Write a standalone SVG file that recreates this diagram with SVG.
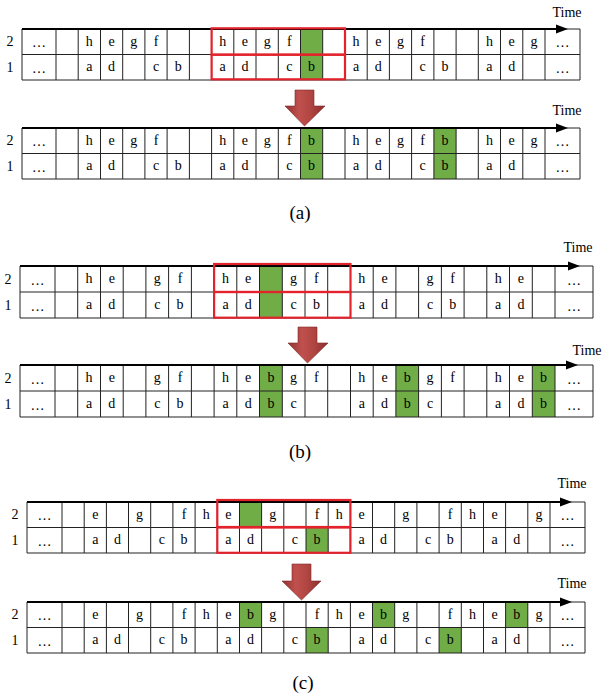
<svg xmlns="http://www.w3.org/2000/svg" width="602" height="693" viewBox="0 0 602 693">
<style>
.g{fill:none;stroke:#222;stroke-width:1}
.gr{fill:#70AD47}
.rb{fill:none;stroke:#E3232C;stroke-width:2.2}
.ax{stroke:#000;stroke-width:2;fill:none}
.ah{fill:#000}
text{font-family:"Liberation Serif","Times New Roman",serif;fill:#000}
.t{font-size:14px;text-anchor:middle}
.lb{font-size:14px;text-anchor:middle}
.tm{font-size:14px;text-anchor:middle}
.cap{font-size:19px;text-anchor:middle}
.big{fill:url(#bg);stroke:#7F2A28;stroke-width:0.6}
</style>
<defs>
<linearGradient id="bg" x1="0" y1="0" x2="1" y2="0">
<stop offset="0" stop-color="#8E3331"/>
<stop offset="0.35" stop-color="#C0504D"/>
<stop offset="0.65" stop-color="#B04542"/>
<stop offset="1" stop-color="#8A2F2D"/>
</linearGradient>
<path id="ga" d="M22 0H580V51H22Z M22 25.5H580 M56 0V51 M78.2 0V51 M100.5 0V51 M122.7 0V51 M144.9 0V51 M167.1 0V51 M189.4 0V51 M211.6 0V51 M233.8 0V51 M256 0V51 M278.3 0V51 M300.5 0V51 M322.7 0V51 M345 0V51 M367.2 0V51 M389.4 0V51 M411.6 0V51 M433.9 0V51 M456.1 0V51 M478.3 0V51 M500.5 0V51 M522.8 0V51 M545 0V51"/>
<path id="gb" d="M20 0H593V52H20Z M20 26H593 M55 0V52 M77.7 0V52 M100.5 0V52 M123.2 0V52 M145.9 0V52 M168.6 0V52 M191.4 0V52 M214.1 0V52 M236.8 0V52 M259.5 0V52 M282.3 0V52 M305 0V52 M327.7 0V52 M350.5 0V52 M373.2 0V52 M395.9 0V52 M418.6 0V52 M441.4 0V52 M464.1 0V52 M486.8 0V52 M509.5 0V52 M532.3 0V52 M555 0V52"/>
<path id="gc" d="M27 0H585V51H27Z M27 25.5H585 M62 0V51 M84.2 0V51 M106.4 0V51 M128.5 0V51 M150.7 0V51 M172.9 0V51 M195.1 0V51 M217.3 0V51 M239.5 0V51 M261.6 0V51 M283.8 0V51 M306 0V51 M328.2 0V51 M350.4 0V51 M372.5 0V51 M394.7 0V51 M416.9 0V51 M439.1 0V51 M461.3 0V51 M483.5 0V51 M505.6 0V51 M527.8 0V51 M550 0V51"/>
</defs>

<!-- (a) top -->
<g id="grid-a1">
<rect class="gr" x="300.5" y="29" width="22.2" height="51"/>
<use href="#ga" class="g" transform="translate(0,29)"/>
<text class="lb" x="10" y="46">2</text><text class="lb" x="10" y="72">1</text>
<g class="t">
<text x="39" y="47">…</text><text x="562.5" y="47">…</text>
<text x="89.3" y="46">h</text><text x="111.6" y="46">e</text><text x="133.8" y="46">g</text><text x="156" y="46">f</text>
<text x="222.7" y="46">h</text><text x="244.9" y="46">e</text><text x="267.2" y="46">g</text><text x="289.4" y="46">f</text>
<text x="356.1" y="46">h</text><text x="378.3" y="46">e</text><text x="400.5" y="46">g</text><text x="422.7" y="46">f</text>
<text x="489.4" y="46">h</text><text x="511.7" y="46">e</text><text x="533.9" y="46">g</text>
<text x="39" y="73">…</text><text x="562.5" y="73">…</text>
<text x="89.3" y="71">a</text><text x="111.6" y="71">d</text><text x="156" y="71">c</text><text x="178.3" y="71">b</text>
<text x="222.7" y="71">a</text><text x="244.9" y="71">d</text><text x="289.4" y="71">c</text><text x="311.6" y="71">b</text>
<text x="356.1" y="71">a</text><text x="378.3" y="71">d</text><text x="422.7" y="71">c</text><text x="445" y="71">b</text>
<text x="489.4" y="71">a</text><text x="511.7" y="71">d</text>
</g>
<path class="ax" d="M22 29H558"/><polygon class="ah" points="568,29 556,24.5 556,33.5"/>
<text class="tm" x="567" y="17">Time</text>
<rect class="rb" x="211.6" y="28.3" width="133.4" height="26.4"/>
<rect class="rb" x="211.6" y="54.7" width="133.4" height="24.6"/>
</g>

<!-- (a) bottom -->
<g id="grid-a2">
<rect class="gr" x="300.5" y="128" width="22.2" height="51"/>
<rect class="gr" x="433.9" y="128" width="22.2" height="51"/>
<use href="#ga" class="g" transform="translate(0,128)"/>
<text class="lb" x="10" y="145">2</text><text class="lb" x="10" y="171">1</text>
<g class="t">
<text x="39" y="146">…</text><text x="562.5" y="146">…</text>
<text x="89.3" y="145">h</text><text x="111.6" y="145">e</text><text x="133.8" y="145">g</text><text x="156" y="145">f</text>
<text x="222.7" y="145">h</text><text x="244.9" y="145">e</text><text x="267.2" y="145">g</text><text x="289.4" y="145">f</text><text x="311.6" y="145">b</text>
<text x="356.1" y="145">h</text><text x="378.3" y="145">e</text><text x="400.5" y="145">g</text><text x="422.7" y="145">f</text><text x="445" y="145">b</text>
<text x="489.4" y="145">h</text><text x="511.7" y="145">e</text><text x="533.9" y="145">g</text>
<text x="39" y="172">…</text><text x="562.5" y="172">…</text>
<text x="89.3" y="170">a</text><text x="111.6" y="170">d</text><text x="156" y="170">c</text><text x="178.3" y="170">b</text>
<text x="222.7" y="170">a</text><text x="244.9" y="170">d</text><text x="289.4" y="170">c</text><text x="311.6" y="170">b</text>
<text x="356.1" y="170">a</text><text x="378.3" y="170">d</text><text x="422.7" y="170">c</text><text x="445" y="170">b</text>
<text x="489.4" y="170">a</text><text x="511.7" y="170">d</text>
</g>
<path class="ax" d="M22 128H558"/><polygon class="ah" points="568,128 556,123.5 556,132.5"/>
<text class="tm" x="567" y="115">Time</text>
</g>

<!-- (b) top -->
<g id="grid-b1">
<rect class="gr" x="259.5" y="266" width="22.8" height="52"/>
<use href="#gb" class="g" transform="translate(0,266)"/>
<text class="lb" x="8" y="284">2</text><text class="lb" x="8" y="310">1</text>
<g class="t">
<text x="37.5" y="285">…</text><text x="574" y="285">…</text>
<text x="89.1" y="283">h</text><text x="111.8" y="283">e</text><text x="157.3" y="283">g</text><text x="180" y="283">f</text>
<text x="225.5" y="283">h</text><text x="248.2" y="283">e</text><text x="293.6" y="283">g</text><text x="316.4" y="283">f</text>
<text x="361.8" y="283">h</text><text x="384.5" y="283">e</text><text x="430" y="283">g</text><text x="452.7" y="283">f</text>
<text x="498.2" y="283">h</text><text x="520.9" y="283">e</text>
<text x="37.5" y="311">…</text><text x="574" y="311">…</text>
<text x="89.1" y="309">a</text><text x="111.8" y="309">d</text><text x="157.3" y="309">c</text><text x="180" y="309">b</text>
<text x="225.5" y="309">a</text><text x="248.2" y="309">d</text><text x="293.6" y="309">c</text><text x="316.4" y="309">b</text>
<text x="361.8" y="309">a</text><text x="384.5" y="309">d</text><text x="430" y="309">c</text><text x="452.7" y="309">b</text>
<text x="498.2" y="309">a</text><text x="520.9" y="309">d</text>
</g>
<path class="ax" d="M20 266H570"/><polygon class="ah" points="580,266 568,261.5 568,270.5"/>
<text class="tm" x="578" y="252">Time</text>
<rect class="rb" x="214.1" y="264" width="136.4" height="28"/>
<rect class="rb" x="214.1" y="292" width="136.4" height="25.7"/>
</g>

<!-- (b) bottom -->
<g id="grid-b2">
<rect class="gr" x="259.5" y="365" width="22.8" height="52"/>
<rect class="gr" x="395.9" y="365" width="22.7" height="52"/>
<rect class="gr" x="532.3" y="365" width="22.7" height="52"/>
<use href="#gb" class="g" transform="translate(0,365)"/>
<text class="lb" x="8" y="383">2</text><text class="lb" x="8" y="409">1</text>
<g class="t">
<text x="37.5" y="384">…</text><text x="574" y="384">…</text>
<text x="89.1" y="382">h</text><text x="111.8" y="382">e</text><text x="157.3" y="382">g</text><text x="180" y="382">f</text>
<text x="225.5" y="382">h</text><text x="248.2" y="382">e</text><text x="270.9" y="382">b</text><text x="293.6" y="382">g</text><text x="316.4" y="382">f</text>
<text x="361.8" y="382">h</text><text x="384.5" y="382">e</text><text x="407.3" y="382">b</text><text x="430" y="382">g</text><text x="452.7" y="382">f</text>
<text x="498.2" y="382">h</text><text x="520.9" y="382">e</text><text x="543.6" y="382">b</text>
<text x="37.5" y="410">…</text><text x="574" y="410">…</text>
<text x="89.1" y="408">a</text><text x="111.8" y="408">d</text><text x="157.3" y="408">c</text><text x="180" y="408">b</text>
<text x="225.5" y="408">a</text><text x="248.2" y="408">d</text><text x="270.9" y="408">b</text><text x="293.6" y="408">c</text>
<text x="361.8" y="408">a</text><text x="384.5" y="408">d</text><text x="407.3" y="408">b</text><text x="430" y="408">c</text>
<text x="498.2" y="408">a</text><text x="520.9" y="408">d</text><text x="543.6" y="408">b</text>
</g>
<path class="ax" d="M20 365H568"/><polygon class="ah" points="578,365 566,360.5 566,369.5"/>
<text class="tm" x="587" y="355">Time</text>
</g>

<!-- (c) top -->
<g id="grid-c1">
<rect class="gr" x="239.5" y="502" width="22.1" height="25.5"/>
<rect class="gr" x="306" y="527.5" width="22.2" height="25.5"/>
<use href="#gc" class="g" transform="translate(0,502)"/>
<text class="lb" x="15" y="519">2</text><text class="lb" x="15" y="545">1</text>
<g class="t">
<text x="44.5" y="520">…</text><text x="567.5" y="520">…</text>
<text x="95.3" y="519">e</text><text x="139.6" y="519">g</text><text x="184" y="519">f</text><text x="206.2" y="519">h</text>
<text x="228.4" y="519">e</text><text x="272.7" y="519">g</text><text x="317.1" y="519">f</text><text x="339.3" y="519">h</text>
<text x="361.5" y="519">e</text><text x="405.8" y="519">g</text><text x="450.2" y="519">f</text><text x="472.4" y="519">h</text>
<text x="494.5" y="519">e</text><text x="538.9" y="519">g</text>
<text x="44.5" y="546">…</text><text x="567.5" y="546">…</text>
<text x="95.3" y="544">a</text><text x="117.5" y="544">d</text><text x="161.8" y="544">c</text><text x="184" y="544">b</text>
<text x="228.4" y="544">a</text><text x="250.5" y="544">d</text><text x="294.9" y="544">c</text><text x="317.1" y="544">b</text>
<text x="361.5" y="544">a</text><text x="383.6" y="544">d</text><text x="428" y="544">c</text><text x="450.2" y="544">b</text>
<text x="494.5" y="544">a</text><text x="516.7" y="544">d</text>
</g>
<path class="ax" d="M27 502H562"/><polygon class="ah" points="572,502 560,497.5 560,506.5"/>
<text class="tm" x="572" y="488">Time</text>
<rect class="rb" x="217.3" y="500" width="133.1" height="27"/>
<rect class="rb" x="217.3" y="527.5" width="133.1" height="25.3"/>
</g>

<!-- (c) bottom -->
<g id="grid-c2">
<rect class="gr" x="239.5" y="602" width="22.1" height="25.5"/>
<rect class="gr" x="372.5" y="602" width="22.2" height="25.5"/>
<rect class="gr" x="505.6" y="602" width="22.2" height="25.5"/>
<rect class="gr" x="306" y="627.5" width="22.2" height="25.5"/>
<rect class="gr" x="439.1" y="627.5" width="22.2" height="25.5"/>
<use href="#gc" class="g" transform="translate(0,602)"/>
<text class="lb" x="15" y="619">2</text><text class="lb" x="15" y="645">1</text>
<g class="t">
<text x="44.5" y="620">…</text><text x="567.5" y="620">…</text>
<text x="95.3" y="619">e</text><text x="139.6" y="619">g</text><text x="184" y="619">f</text><text x="206.2" y="619">h</text>
<text x="228.4" y="619">e</text><text x="250.5" y="619">b</text><text x="272.7" y="619">g</text><text x="317.1" y="619">f</text><text x="339.3" y="619">h</text>
<text x="361.5" y="619">e</text><text x="383.6" y="619">b</text><text x="405.8" y="619">g</text><text x="450.2" y="619">f</text><text x="472.4" y="619">h</text>
<text x="494.5" y="619">e</text><text x="516.7" y="619">b</text><text x="538.9" y="619">g</text>
<text x="44.5" y="646">…</text><text x="567.5" y="646">…</text>
<text x="95.3" y="644">a</text><text x="117.5" y="644">d</text><text x="161.8" y="644">c</text><text x="184" y="644">b</text>
<text x="228.4" y="644">a</text><text x="250.5" y="644">d</text><text x="294.9" y="644">c</text><text x="317.1" y="644">b</text>
<text x="361.5" y="644">a</text><text x="383.6" y="644">d</text><text x="428" y="644">c</text><text x="450.2" y="644">b</text>
<text x="494.5" y="644">a</text><text x="516.7" y="644">d</text>
</g>
<path class="ax" d="M27 602H562"/><polygon class="ah" points="572,602 560,597.5 560,606.5"/>
<text class="tm" x="572" y="588">Time</text>
</g>

<g id="connectors">
<polygon class="big" points="295,90 314,90 314,106 325,106 304.5,126 285,106 295,106"/>
<polygon class="big" points="298,327 317,327 317,343 328,343 307.5,363 288,343 298,343"/>
<polygon class="big" points="292,564 311,564 311,581 321,581 301.5,600 282,581 292,581"/>
</g>

<text class="cap" x="300" y="219">(a)</text>
<text class="cap" x="300" y="458">(b)</text>
<text class="cap" x="303" y="689">(c)</text>
</svg>
